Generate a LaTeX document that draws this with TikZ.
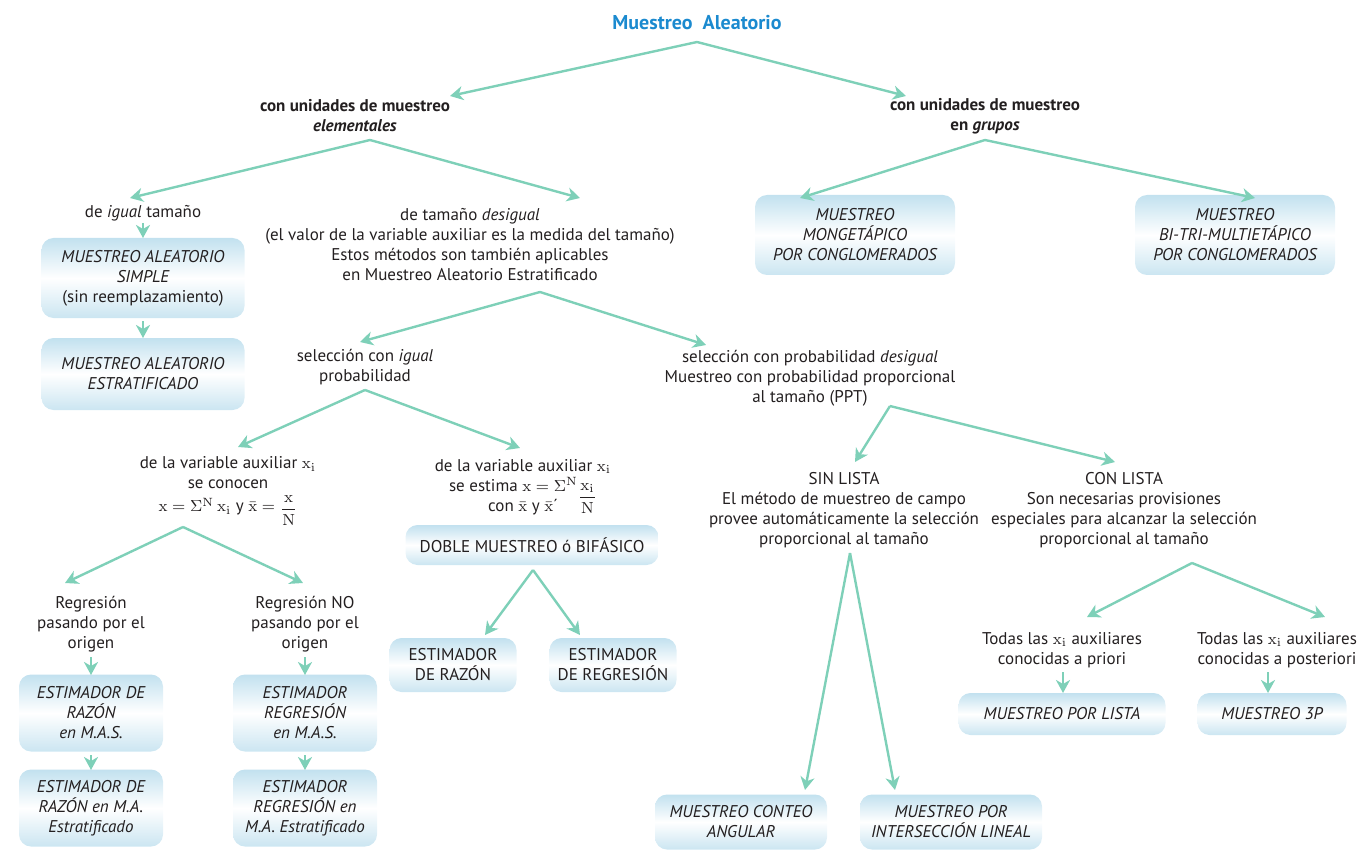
\documentclass[tikz,border=0pt]{standalone}
\usepackage{amsmath}
\usepackage[no-math]{fontspec}
\setmainfont{PT Sans}
\usepackage{tikz}
\usetikzlibrary{arrows.meta, calc, positioning}

\definecolor{azultit}{HTML}{1B8ACF}
\definecolor{verde}{HTML}{7ED0B8}
\definecolor{celeste}{HTML}{C2E1EF}
\definecolor{tinta}{HTML}{231F20}

\tikzset{
  txt/.style={align=center, inner sep=1pt, text=tinta,
    font=\fontsize{8.5}{10}\selectfont},
  negrita/.style={txt, font=\fontsize{8.5}{10}\selectfont\bfseries},
  caja/.style={txt, rounded corners=6pt, top color=celeste,
    bottom color=celeste!85, middle color=white},
  cajait/.style={caja, font=\fontsize{8.5}{10}\selectfont\itshape},
  flecha/.style={draw=verde, line width=1.2pt,
    -{Stealth[length=6.5pt, width=7pt, inset=2pt]}}
}

\begin{document}
\begin{tikzpicture}[x=0.5pt, y=-0.5pt]
\useasboundingbox (0,0) rectangle (1370,850);

\node[txt, font=\fontsize{10}{12}\selectfont\bfseries, text=azultit] (titulo) at (697,23) {Muestreo\ \ Aleatorio};
\node[negrita] (elem) at (355,116) {con unidades de muestreo\\\textit{elementales}};
\node[negrita] (grupos) at (985,116) {con unidades de muestreo\\en \textit{grupos}};

\node[txt] (igual) at (143,213) {de \textit{igual} tamaño};
\node[txt] (desigual) at (470,245) {de tamaño \textit{desigual}\\(el valor de la variable auxiliar es la medida del tamaño)\\Estos métodos son también aplicables\\en Muestreo Aleatorio Estratificado};
\node[cajait, minimum width=100pt, minimum height=40pt] (mong) at (855,235) {MUESTREO\\MONGETÁPICO\\POR CONGLOMERADOS};
\node[cajait, minimum width=100pt, minimum height=40pt] (multi) at (1235,235) {MUESTREO\\BI-TRI-MULTIETÁPICO\\POR CONGLOMERADOS};

\node[cajait, minimum width=101.5pt, minimum height=40pt] (mas) at (143,278) {MUESTREO ALEATORIO\\SIMPLE\\\textup{(sin reemplazamiento)}};
\node[cajait, minimum width=101.5pt, minimum height=36pt] (mae) at (143,374) {MUESTREO ALEATORIO\\ESTRATIFICADO};

\node[txt] (selig) at (365,367) {selección con \textit{igual}\\probabilidad};
\node[txt] (seldes) at (810,378) {selección con probabilidad \textit{desigual}\\Muestreo con probabilidad proporcional\\al tamaño (PPT)};

\node[txt] (conocen) at (228,486) {de la variable auxiliar $\mathrm{x_i}$\\se conocen\\[1.5pt]$\mathrm{x}=\Sigma^{\mathrm{N}}\,\mathrm{x_i}$ y $\bar{\mathrm{x}}=\smash{\raisebox{-1pt}{$\dfrac{\mathrm{x}}{\mathrm{N}}$}}$};
\node[txt] (estima) at (523,487) {de la variable auxiliar $\mathrm{x_i}$\\se estima $\mathrm{x}=\Sigma^{\mathrm{N}}\smash{\raisebox{-5pt}{$\dfrac{\mathrm{x_i}}{\mathrm{N}}$}}$\\con $\bar{\mathrm{x}}$ y $\bar{\mathrm{x}}$´\hspace{12pt}};
\node[caja, minimum width=126.5pt, minimum height=20pt] (doble) at (532,545) {DOBLE MUESTREO ó BIFÁSICO};
\node[caja, minimum width=63.5pt, minimum height=27pt] (razon) at (453,665) {ESTIMADOR\\DE RAZÓN};
\node[caja, minimum width=63.5pt, minimum height=27pt] (regr) at (613,665) {ESTIMADOR\\DE REGRESIÓN};

\node[txt] (rpo) at (91,624) {Regresión\\pasando por el\\origen};
\node[txt] (rno) at (305,624) {Regresión NO\\pasando por el\\origen};
\node[cajait, minimum width=72pt, minimum height=38.5pt] (erm) at (91,713) {ESTIMADOR DE\\RAZÓN\\en M.A.S.};
\node[cajait, minimum width=72pt, minimum height=38.5pt] (erme) at (91,808) {ESTIMADOR DE\\RAZÓN en M.A.\\Estratificado};
\node[cajait, minimum width=72pt, minimum height=38.5pt] (egm) at (305,713) {ESTIMADOR\\REGRESIÓN\\en M.A.S.};
\node[cajait, minimum width=72pt, minimum height=38.5pt] (egme) at (305,808) {ESTIMADOR\\REGRESIÓN en\\M.A. Estratificado};

\node[txt] (sin) at (844,510) {SIN LISTA\\El método de muestreo de campo\\provee automáticamente la selección\\proporcional al tamaño};
\node[txt] (con) at (1124,510) {CON LISTA\\Son necesarias provisiones\\especiales para alcanzar la selección\\proporcional al tamaño};
\node[cajait, minimum width=86pt, minimum height=27.5pt] (conteo) at (741,822) {MUESTREO CONTEO\\ANGULAR};
\node[cajait, minimum width=91pt, minimum height=27.5pt] (inter) at (951,822) {MUESTREO POR\\INTERSECCIÓN LINEAL};

\node[txt] (priori) at (1062,650) {Todas las $\mathrm{x_i}$ auxiliares\\conocidas a priori};
\node[txt] (post) at (1277,650) {Todas las $\mathrm{x_i}$ auxiliares\\conocidas a posteriori};
\node[cajait, minimum width=103.5pt, minimum height=21pt] (lista) at (1062,714) {MUESTREO POR LISTA};
\node[cajait, minimum width=74.5pt, minimum height=21pt] (p3) at (1272,714) {MUESTREO 3P};

% conectores
\draw[flecha] ($(titulo)+(0,19)$) -- ($(elem)+(95,-20)$);
\draw[flecha] ($(titulo)+(0,19)$) -- ($(grupos)+(-79,-20)$);
\draw[flecha] ($(elem)+(15,24)$) -- ($(igual)+(-13,-15)$);
\draw[flecha] ($(elem)+(15,24)$) -- ($(desigual)+(110,-47)$);
\draw[flecha] ($(grupos)+(0,24)$) -- ($(mong)+(-55,-37)$);
\draw[flecha] ($(grupos)+(0,24)$) -- ($(multi)+(20,-37)$);
\draw[flecha] ($(igual)+(0,10)$) -- ($(mas)+(0,-40)$);
\draw[flecha] ($(mas)+(0,43)$) -- ($(mae)+(0,-36)$);
\draw[flecha] ($(desigual)+(70,47)$) -- ($(selig)+(-5,-25)$);
\draw[flecha] ($(desigual)+(70,47)$) -- ($(seldes)+(-104,-33)$);
\draw[flecha] ($(selig)+(0,23)$) -- ($(conocen)+(10,-39)$);
\draw[flecha] ($(selig)+(0,23)$) -- ($(estima)+(-3,-39)$);
\draw[flecha] ($(conocen)+(-45,41)$) -- ($(rpo)+(-26,-41)$);
\draw[flecha] ($(conocen)+(-45,41)$) -- ($(rno)+(-2,-41)$);
\draw[flecha] ($(rpo)+(0,33)$) -- ($(erm)+(0,-38)$);
\draw[flecha] ($(erm)+(0,42)$) -- ($(erme)+(0,-38)$);
\draw[flecha] ($(rno)+(0,33)$) -- ($(egm)+(0,-38)$);
\draw[flecha] ($(egm)+(0,42)$) -- ($(egme)+(0,-38)$);
\draw[flecha] ($(doble)+(1,25)$) -- ($(razon)+(32,-30)$);
\draw[flecha] ($(doble)+(1,25)$) -- ($(regr)+(-33,-30)$);
\draw[flecha] ($(seldes)+(80,28)$) -- ($(sin)+(11,-48)$);
\draw[flecha] ($(seldes)+(80,28)$) -- ($(con)+(-9,-48)$);
\draw[flecha] ($(sin)+(6,43)$) -- ($(conteo)+(64,-32)$);
\draw[flecha] ($(sin)+(6,43)$) -- ($(inter)+(-56,-32)$);
\draw[flecha] ($(con)+(68,53)$) -- ($(priori)+(25,-33)$);
\draw[flecha] ($(con)+(68,53)$) -- ($(post)+(48,-33)$);
\draw[flecha] ($(priori)+(1,22)$) -- ($(lista)+(1,-21)$);
\draw[flecha] ($(post)+(-9,22)$) -- ($(p3)+(-4,-21)$);
\end{tikzpicture}
\end{document}
